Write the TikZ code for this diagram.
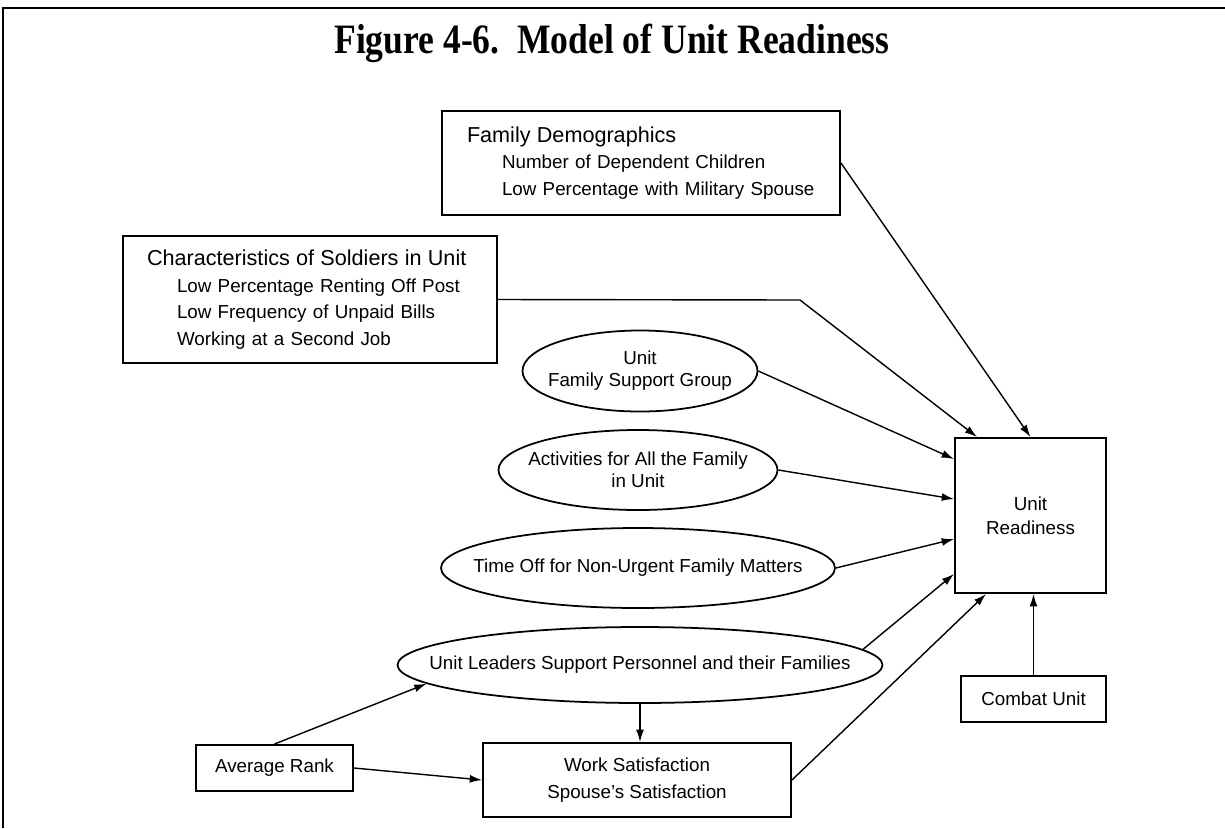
\documentclass[tikz,border=0pt]{standalone}
\usepackage{fontspec}
\setmainfont{Liberation Serif}
\setsansfont{Liberation Sans}
\usetikzlibrary{arrows.meta,shapes.geometric}

\newcommand{\subtxt}{\fontsize{10.7}{15.2}\selectfont}
\newcommand{\headtxt}{\fontsize{12.3}{15.2}\selectfont}

\begin{document}
\begin{tikzpicture}[
  >={Latex[length=7pt,width=4.5pt]},
  box/.style={draw,line width=1.1pt,rectangle,inner sep=0pt,font=\sffamily\subtxt,align=center},
  oval/.style={draw,line width=1pt,ellipse,inner sep=0pt},
  ovaltext/.style={font=\sffamily\fontsize{10.7}{12.6}\selectfont,align=center,inner sep=0pt},
  link/.style={->,line width=0.8pt}]
\useasboundingbox (0cm,0cm) rectangle (24.5cm,-16.56cm);
\draw[line width=1.6pt] (0.06cm,-16.56cm) -- (0.06cm,-0.16cm) -- (24.5cm,-0.16cm);
\node[font=\bfseries] (title) at (12.24cm,-0.86cm) {\scalebox{0.85}[1]{\fontsize{23.8}{28}\selectfont Figure 4-6.\ \ Model of Unit Readiness}};
% boxes on the left and top
\node[box,align=left,inner xsep=0.5cm,text width=6.96cm,minimum height=2.08cm] (fd) at (12.82cm,-3.26cm)
  {{\headtxt Family Demographics}\\\hspace*{0.7cm}Number of Dependent Children\\\hspace*{0.7cm}Low Percentage with Military Spouse};
\node[box,align=left,inner xsep=0.48cm,text width=6.52cm,minimum height=2.54cm] (chars) at (6.2cm,-5.99cm)
  {{\headtxt Characteristics of Soldiers in Unit}\\\hspace*{0.6cm}Low Percentage Renting Off Post\\\hspace*{0.6cm}Low Frequency of Unpaid Bills\\\hspace*{0.6cm}Working at a Second Job};
% ellipses, text set on top
\node[oval,minimum width=4.7cm,minimum height=1.62cm] (fsg) at (12.8cm,-7.42cm) {};
\node[ovaltext] (fsgtext) at (fsg) {Unit\\Family Support Group};
\node[oval,minimum width=5.58cm,minimum height=1.6cm] (act) at (12.76cm,-9.4cm) {};
\node[ovaltext] (acttext) at (act) {Activities for All the Family\\in Unit};
\node[oval,minimum width=7.88cm,minimum height=1.6cm] (timeoff) at (12.76cm,-11.36cm) {};
\node[ovaltext] (timeofftext) at (timeoff) {Time Off for Non-Urgent Family Matters};
\node[oval,minimum width=9.7cm,minimum height=1.52cm] (lead) at (12.8cm,-13.3cm) {};
\node[ovaltext] (leadtext) at (lead) {Unit Leaders Support Personnel and their Families};
% bottom boxes
\node[box,minimum width=6.16cm,minimum height=1.48cm,font=\sffamily\fontsize{10.7}{15.4}\selectfont] (ws) at (12.74cm,-15.6cm) {Work Satisfaction\\Spouse's Satisfaction};
\node[box,minimum width=3.14cm,minimum height=0.92cm] (rank) at (5.49cm,-15.36cm) {Average Rank};
\node[box,minimum width=2.9cm,minimum height=0.92cm] (combat) at (20.67cm,-13.98cm) {Combat Unit};
\node[box,minimum width=3.02cm,minimum height=3.1cm,font=\sffamily\fontsize{10.7}{13.6}\selectfont] (ur) at (20.61cm,-10.31cm) {Unit\\Readiness};
\coordinate (bend) at (16cm,-6cm);
% arrows into unit readiness
\draw[link] (fd.east) -- (ur.north);
\draw[link] (chars.east) -- (bend) -- ([xshift=0.46cm]ur.north west);
\draw[link] (fsg.east) -- ([yshift=-0.44cm]ur.north west);
\draw[link] (act.east) -- ([yshift=-1.24cm]ur.north west);
\draw[link] (timeoff.east) -- ([yshift=-2.04cm]ur.north west);
\draw[link] (lead.4) -- ([yshift=0.4cm]ur.south west);
\draw[link] (ws.east) -- ([xshift=0.64cm]ur.south west);
\draw[link] (combat.north) -- (combat.north |- ur.south);
% the rest
\draw[link] (rank.north) -- (lead.185);
\draw[link] (rank.east) -- (ws.west);
\draw[link] (lead.south) -- (lead.south |- ws.north);
\end{tikzpicture}
\end{document}
